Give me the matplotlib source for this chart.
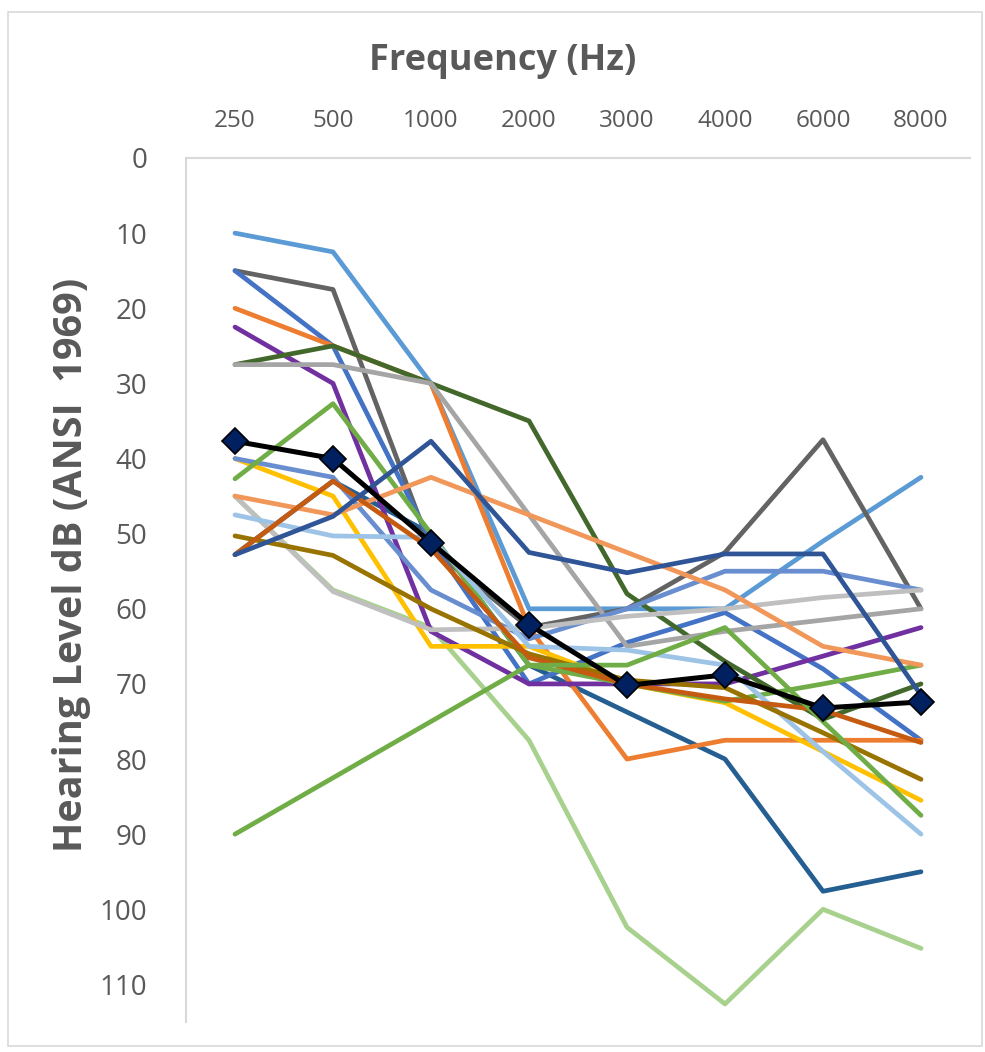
import matplotlib
matplotlib.use("Agg")
import matplotlib.pyplot as plt
from matplotlib.patches import Rectangle

freqs = ["250", "500", "1000", "2000", "3000", "4000", "6000", "8000"]

light_blue_a = [10, 12.5, 30, 60, 60, 60, 51, 42.5]
dark_gray = [15, 17.5, 52, 62.5, 60, 52.5, 37.5, 60]
blue = [15, 25, 51, 70, 64.5, 60.5, 68, 77.5]
orange = [20, 25, 30, 62.5, 80, 77.5, 77.5, 77.5]
purple = [22.5, 30, 63, 70, 70, 70, 66.3, 62.5]
dark_green = [27.5, 25, 30, 35, 58, 67, 74.7, 70]
gray = [27.5, 27.5, 30, 47.5, 65, 63, 61.5, 60]
gold = [40, 45, 65, 65, 70, 72.5, 79, 85.5]
medium_blue = [40, 42.5, 57.5, 64, 60, 55, 55, 57.5]
green_b = [42.7, 32.7, 50, 67.5, 70, 72.3, 70, 67.5]
light_gray = [45, 57.7, 62.8, 62.6, 61, 60, 58.5, 57.5]
light_orange = [45, 47.5, 42.5, 47.5, 52.5, 57.5, 65, 67.5]
light_blue_b = [47.5, 50.3, 50.5, 65, 65.5, 67.5, 79, 90]
dark_gold = [50.3, 52.9, 60, 66, 69.5, 70.5, 76.5, 82.7]
brown = [52.8, 43, 52, 66.5, 70, 72, 73.5, 77.8]
dark_blue = [52.8, 47.7, 37.7, 52.5, 55.2, 52.7, 52.7, 71.5]
steel_blue = [52.8, 43, 50, 67.5, 73.75, 80, 97.6, 95]
green_a = [90, 82.5, 75, 67.5, 67.5, 62.5, 75, 87.5]
light_green = [45, 57.5, 62.5, 77.5, 102.4, 112.6, 100, 105.2]
mean = [37.7, 40, 51.2, 62.1, 70.2, 68.8, 73.2, 72.4]

series = [
    (light_green, "#A9D18E"),
    (steel_blue, "#255E91"),
    (light_blue_a, "#5B9BD5"),
    (dark_gray, "#636363"),
    (blue, "#4472C4"),
    (orange, "#ED7D31"),
    (purple, "#7030A0"),
    (dark_green, "#43682B"),
    (gray, "#A5A5A5"),
    (gold, "#FFC000"),
    (medium_blue, "#698ED0"),
    (green_b, "#70AD47"),
    (light_gray, "#BFBFBF"),
    (light_orange, "#F1975A"),
    (light_blue_b, "#9DC3E6"),
    (dark_gold, "#997300"),
    (brown, "#C55A11"),
    (dark_blue, "#2F5597"),
    (green_a, "#70AD47"),
]

plt.rcParams['font.family'] = ['Open Sans', 'DejaVu Sans']
text_color = "#595959"

fig = plt.figure(figsize=(9.85, 10.52), dpi=100)
ax = fig.add_axes([186 / 985, 1 - 1022 / 1052, (970 - 186) / 985, (1022 - 158) / 1052])
x = list(range(len(freqs)))

for vals, col in series:
    ax.plot(x, vals, color=col, lw=3.4, solid_capstyle='round', zorder=2)
ax.plot(x, mean, color="black", lw=3.6, marker="D", markersize=13,
        markerfacecolor="#002060", markeredgecolor="black", markeredgewidth=1.2, zorder=3)

ax.set_xlim(-0.5, 7.5)
ax.set_ylim(115, 0)
ax.xaxis.tick_top()
ax.set_xticks(x, freqs)
ax.set_yticks(list(range(0, 111, 10)))
ax.tick_params(axis='x', length=0, pad=18, labelsize=17.5, colors=text_color)
ax.tick_params(axis='y', length=0, pad=28, labelsize=20, colors=text_color)
for s in ["right", "bottom"]:
    ax.spines[s].set_visible(False)
for s in ["top", "left"]:
    ax.spines[s].set_color("#D9D9D9")
    ax.spines[s].set_linewidth(1.5)

fig.text(503 / 985, 1 - 61 / 1052, "Frequency (Hz)", ha="center", va="center",
         fontsize=26, fontweight="bold", color=text_color)
fig.text(72 / 985, 1 - 565 / 1052, "Hearing Level dB (ANSI  1969)", ha="center", va="center",
         rotation=90, fontsize=28.5, fontweight="bold", color=text_color)

fig.patches.append(Rectangle((8 / 985, 1 - 1046 / 1052), 974 / 985, 1034 / 1052,
                             transform=fig.transFigure, fill=False, edgecolor="#D9D9D9", lw=1.2))

fig.savefig("out.png", dpi=100)
